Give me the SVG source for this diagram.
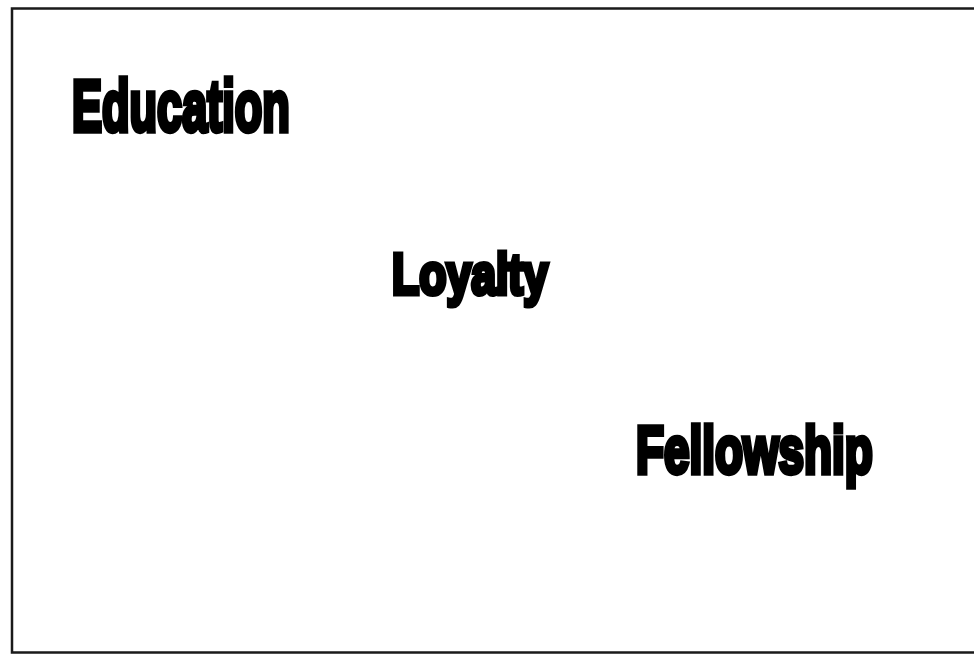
<svg xmlns="http://www.w3.org/2000/svg" width="974" height="654" viewBox="0 0 974 654">
<style>
.w{font-family:"Liberation Sans",Arial,sans-serif;font-weight:bold;fill:#000;stroke:#000;stroke-width:4.5;stroke-linejoin:miter;vector-effect:non-scaling-stroke}
.b{stroke:#1a1a1a;stroke-width:2.5;fill:none}
</style>
<rect width="974" height="654" fill="#fff"/>
<g id="frame">
<path class="b" d="M974 8.5H12V652.5H974"/>
</g>
<g id="education" transform="translate(72 131) scale(0.626 1)"><text class="w" x="0" y="0" font-size="72">Education</text></g>
<g id="loyalty" transform="translate(392 294) scale(0.768 1)"><text class="w" x="0" y="0" font-size="58">Loyalty</text></g>
<g id="fellowship" transform="translate(636 473) scale(0.684 1)"><text class="w" x="0" y="0" font-size="67">Fellowship</text></g>
</svg>
